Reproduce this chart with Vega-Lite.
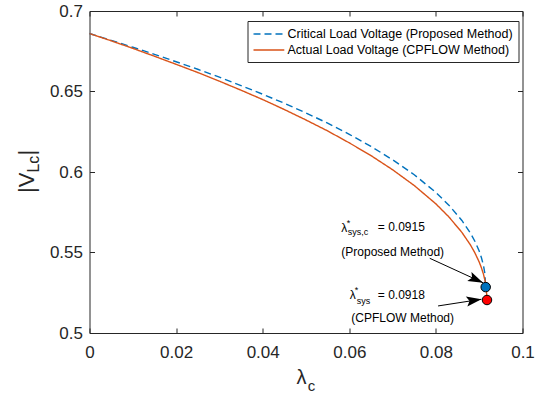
{
  "$schema": "https://vega.github.io/schema/vega-lite/v6.json",
  "width": 433,
  "height": 322,
  "autosize": {"type": "none"},
  "padding": {"left": 89.5, "top": 11, "right": 18.5, "bottom": 66},
  "background": "white",
  "config": {
    "font": "Liberation Sans",
    "view": {"stroke": "#262626", "strokeWidth": 1},
    "axis": {
      "domain": false,
      "grid": false,
      "tickColor": "#262626",
      "tickSize": -5,
      "tickWidth": 1,
      "labelColor": "#262626",
      "labelFont": "Liberation Sans",
      "labelFontSize": 17,
      "labelFlush": false,
      "labelOverlap": false,
      "title": null
    }
  },
  "datasets": {
    "curves": [
      {"series": "Critical Load Voltage (Proposed Method)", "lambda": 0, "V": 0.686},
      {"series": "Critical Load Voltage (Proposed Method)", "lambda": 0.005, "V": 0.6818},
      {"series": "Critical Load Voltage (Proposed Method)", "lambda": 0.01, "V": 0.6775},
      {"series": "Critical Load Voltage (Proposed Method)", "lambda": 0.015, "V": 0.6731},
      {"series": "Critical Load Voltage (Proposed Method)", "lambda": 0.02, "V": 0.6685},
      {"series": "Critical Load Voltage (Proposed Method)", "lambda": 0.025, "V": 0.6638},
      {"series": "Critical Load Voltage (Proposed Method)", "lambda": 0.03, "V": 0.6589},
      {"series": "Critical Load Voltage (Proposed Method)", "lambda": 0.035, "V": 0.6537},
      {"series": "Critical Load Voltage (Proposed Method)", "lambda": 0.04, "V": 0.6483},
      {"series": "Critical Load Voltage (Proposed Method)", "lambda": 0.045, "V": 0.6427},
      {"series": "Critical Load Voltage (Proposed Method)", "lambda": 0.05, "V": 0.6367},
      {"series": "Critical Load Voltage (Proposed Method)", "lambda": 0.055, "V": 0.6303},
      {"series": "Critical Load Voltage (Proposed Method)", "lambda": 0.06, "V": 0.6234},
      {"series": "Critical Load Voltage (Proposed Method)", "lambda": 0.065, "V": 0.6159},
      {"series": "Critical Load Voltage (Proposed Method)", "lambda": 0.07, "V": 0.6076},
      {"series": "Critical Load Voltage (Proposed Method)", "lambda": 0.075, "V": 0.5983},
      {"series": "Critical Load Voltage (Proposed Method)", "lambda": 0.08, "V": 0.5873},
      {"series": "Critical Load Voltage (Proposed Method)", "lambda": 0.083, "V": 0.5794},
      {"series": "Critical Load Voltage (Proposed Method)", "lambda": 0.086, "V": 0.5699},
      {"series": "Critical Load Voltage (Proposed Method)", "lambda": 0.088, "V": 0.5619},
      {"series": "Critical Load Voltage (Proposed Method)", "lambda": 0.089, "V": 0.557},
      {"series": "Critical Load Voltage (Proposed Method)", "lambda": 0.09, "V": 0.5509},
      {"series": "Critical Load Voltage (Proposed Method)", "lambda": 0.0905, "V": 0.5469},
      {"series": "Critical Load Voltage (Proposed Method)", "lambda": 0.091, "V": 0.5418},
      {"series": "Critical Load Voltage (Proposed Method)", "lambda": 0.0913, "V": 0.5371},
      {"series": "Critical Load Voltage (Proposed Method)", "lambda": 0.0915, "V": 0.5285},
      {"series": "Actual Load Voltage (CPFLOW Method)", "lambda": 0, "V": 0.686},
      {"series": "Actual Load Voltage (CPFLOW Method)", "lambda": 0.005, "V": 0.6815},
      {"series": "Actual Load Voltage (CPFLOW Method)", "lambda": 0.01, "V": 0.6768},
      {"series": "Actual Load Voltage (CPFLOW Method)", "lambda": 0.015, "V": 0.6719},
      {"series": "Actual Load Voltage (CPFLOW Method)", "lambda": 0.02, "V": 0.6669},
      {"series": "Actual Load Voltage (CPFLOW Method)", "lambda": 0.025, "V": 0.6618},
      {"series": "Actual Load Voltage (CPFLOW Method)", "lambda": 0.03, "V": 0.6564},
      {"series": "Actual Load Voltage (CPFLOW Method)", "lambda": 0.035, "V": 0.6508},
      {"series": "Actual Load Voltage (CPFLOW Method)", "lambda": 0.04, "V": 0.645},
      {"series": "Actual Load Voltage (CPFLOW Method)", "lambda": 0.045, "V": 0.6388},
      {"series": "Actual Load Voltage (CPFLOW Method)", "lambda": 0.05, "V": 0.6323},
      {"series": "Actual Load Voltage (CPFLOW Method)", "lambda": 0.055, "V": 0.6255},
      {"series": "Actual Load Voltage (CPFLOW Method)", "lambda": 0.06, "V": 0.6181},
      {"series": "Actual Load Voltage (CPFLOW Method)", "lambda": 0.065, "V": 0.6102},
      {"series": "Actual Load Voltage (CPFLOW Method)", "lambda": 0.07, "V": 0.6014},
      {"series": "Actual Load Voltage (CPFLOW Method)", "lambda": 0.075, "V": 0.5916},
      {"series": "Actual Load Voltage (CPFLOW Method)", "lambda": 0.08, "V": 0.5802},
      {"series": "Actual Load Voltage (CPFLOW Method)", "lambda": 0.083, "V": 0.5721},
      {"series": "Actual Load Voltage (CPFLOW Method)", "lambda": 0.086, "V": 0.5625},
      {"series": "Actual Load Voltage (CPFLOW Method)", "lambda": 0.088, "V": 0.5546},
      {"series": "Actual Load Voltage (CPFLOW Method)", "lambda": 0.089, "V": 0.5498},
      {"series": "Actual Load Voltage (CPFLOW Method)", "lambda": 0.09, "V": 0.5441},
      {"series": "Actual Load Voltage (CPFLOW Method)", "lambda": 0.0905, "V": 0.5406},
      {"series": "Actual Load Voltage (CPFLOW Method)", "lambda": 0.091, "V": 0.5364},
      {"series": "Actual Load Voltage (CPFLOW Method)", "lambda": 0.0914, "V": 0.5319},
      {"series": "Actual Load Voltage (CPFLOW Method)", "lambda": 0.0916, "V": 0.5287},
      {"series": "Actual Load Voltage (CPFLOW Method)", "lambda": 0.0918, "V": 0.521}
    ],
    "dots": [
      {"method": "Proposed", "lambda": 0.0915, "V": 0.5285},
      {"method": "CPFLOW", "lambda": 0.0918, "V": 0.5205}
    ],
    "arrows": [
      {"lambda": 0.07858, "V": 0.5464, "lambda2": 0.09088, "V2": 0.53124},
      {"lambda": 0.0805, "V": 0.5168, "lambda2": 0.09051, "V2": 0.52096}
    ],
    "annBig": [
      {"t": "λ", "lambda": 0.05816, "V": 0.56273},
      {"t": "= 0.0915", "lambda": 0.06658, "V": 0.56335},
      {"t": "(Proposed Method)", "lambda": 0.05816, "V": 0.54783},
      {"t": "λ", "lambda": 0.06012, "V": 0.52112},
      {"t": "= 0.0918", "lambda": 0.06658, "V": 0.52112},
      {"t": "(CPFLOW Method)", "lambda": 0.06047, "V": 0.50683}
    ],
    "annSmall": [
      {"t": "*", "lambda": 0.05943, "V": 0.56646},
      {"t": "sys,c", "lambda": 0.05966, "V": 0.56087},
      {"t": "*", "lambda": 0.06127, "V": 0.52484},
      {"t": "sys", "lambda": 0.06174, "V": 0.51832}
    ],
    "xTitle": [{"t": "λ", "lambda": 0.04782, "V": 0.46832}],
    "xTitleSub": [{"t": "c", "lambda": 0.05042, "V": 0.46398}],
    "yTitle": [
      {"t": "|V", "lambda": -0.012809, "V": 0.58696},
      {"t": "|", "lambda": -0.012809, "V": 0.61025}
    ],
    "yTitleSub": [{"t": "Lc", "lambda": -0.011655, "V": 0.59963}]
  },
  "layer": [
    {
      "data": {"name": "curves"},
      "mark": {"type": "line", "strokeWidth": 1.4},
      "encoding": {
        "x": {"field": "lambda", "type": "quantitative", "scale": {"domain": [0, 0.1], "nice": false, "zero": false},
          "axis": {"orient": "bottom", "values": [0, 0.02, 0.04, 0.06, 0.08, 0.1], "format": "~g", "labelPadding": 16}},
        "y": {"field": "V", "type": "quantitative", "scale": {"domain": [0.5, 0.7], "nice": false, "zero": false},
          "axis": {"orient": "left", "values": [0.5, 0.55, 0.6, 0.65, 0.7], "format": "~g", "labelPadding": 12}},
        "color": {"field": "series", "type": "nominal",
          "scale": {"domain": ["Critical Load Voltage (Proposed Method)", "Actual Load Voltage (CPFLOW Method)"], "range": ["#0072BD", "#D95319"]},
          "legend": {"orient": "none", "legendX": 158, "legendY": 10, "title": null, "fillColor": "white", "strokeColor": "#262626",
            "padding": 5, "rowPadding": 1, "symbolType": "M-1,0 L3.4,0", "symbolSize": 196, "symbolStrokeWidth": 1.4,
            "labelFontSize": 12.5, "labelColor": "black", "labelFont": "Liberation Sans", "labelOffset": 19, "labelLimit": 0}},
        "strokeDash": {"field": "series", "type": "nominal",
          "scale": {"domain": ["Critical Load Voltage (Proposed Method)", "Actual Load Voltage (CPFLOW Method)"], "range": [[7, 4], [1, 0]]}}
      }
    },
    {
      "data": {"name": "curves"},
      "mark": {"type": "point", "opacity": 0},
      "encoding": {
        "x": {"field": "lambda", "type": "quantitative", "scale": {"domain": [0, 0.1], "nice": false, "zero": false},
          "axis": {"orient": "top", "values": [0, 0.02, 0.04, 0.06, 0.08, 0.1], "labels": false}},
        "y": {"field": "V", "type": "quantitative", "scale": {"domain": [0.5, 0.7], "nice": false, "zero": false},
          "axis": {"orient": "right", "values": [0.5, 0.55, 0.6, 0.65, 0.7], "labels": false}}
      }
    },
    {
      "data": {"name": "arrows"},
      "mark": {"type": "rule", "color": "black", "strokeWidth": 1},
      "encoding": {
        "x": {"field": "lambda", "type": "quantitative", "axis": null},
        "y": {"field": "V", "type": "quantitative", "axis": null},
        "x2": {"field": "lambda2"},
        "y2": {"field": "V2"}
      }
    },
    {
      "data": {"values": [{"lambda": 0.09088, "V": 0.53124}]},
      "mark": {"type": "point", "shape": "M0,0 L-2,-0.67 L-1.6,0 L-2,0.67 Z", "size": 225, "angle": 24.6, "filled": true, "color": "black", "opacity": 1},
      "encoding": {
        "x": {"field": "lambda", "type": "quantitative", "axis": null},
        "y": {"field": "V", "type": "quantitative", "axis": null}
      }
    },
    {
      "data": {"values": [{"lambda": 0.09051, "V": 0.52096}]},
      "mark": {"type": "point", "shape": "M0,0 L-2,-0.67 L-1.6,0 L-2,0.67 Z", "size": 225, "angle": -8.8, "filled": true, "color": "black", "opacity": 1},
      "encoding": {
        "x": {"field": "lambda", "type": "quantitative", "axis": null},
        "y": {"field": "V", "type": "quantitative", "axis": null}
      }
    },
    {
      "data": {"name": "dots"},
      "mark": {"type": "point", "shape": "circle", "filled": true, "size": 90, "stroke": "black", "strokeWidth": 1, "opacity": 1},
      "encoding": {
        "x": {"field": "lambda", "type": "quantitative", "axis": null},
        "y": {"field": "V", "type": "quantitative", "axis": null},
        "fill": {"field": "method", "type": "nominal", "scale": {"domain": ["Proposed", "CPFLOW"], "range": ["#0072BD", "#FF0000"]}, "legend": null}
      }
    },
    {
      "data": {"name": "annBig"},
      "mark": {"type": "text", "align": "left", "baseline": "alphabetic", "fontSize": 12, "color": "black", "font": "Liberation Sans"},
      "encoding": {
        "x": {"field": "lambda", "type": "quantitative", "axis": null},
        "y": {"field": "V", "type": "quantitative", "axis": null},
        "text": {"field": "t"}
      }
    },
    {
      "data": {"name": "annSmall"},
      "mark": {"type": "text", "align": "left", "baseline": "alphabetic", "fontSize": 9, "color": "black", "font": "Liberation Sans"},
      "encoding": {
        "x": {"field": "lambda", "type": "quantitative", "axis": null},
        "y": {"field": "V", "type": "quantitative", "axis": null},
        "text": {"field": "t"}
      }
    },
    {
      "data": {"name": "xTitle"},
      "mark": {"type": "text", "align": "left", "baseline": "alphabetic", "fontSize": 20, "color": "#262626", "font": "Liberation Sans"},
      "encoding": {
        "x": {"field": "lambda", "type": "quantitative", "axis": null},
        "y": {"field": "V", "type": "quantitative", "axis": null},
        "text": {"field": "t"}
      }
    },
    {
      "data": {"name": "xTitleSub"},
      "mark": {"type": "text", "align": "left", "baseline": "alphabetic", "fontSize": 15, "color": "#262626", "font": "Liberation Sans"},
      "encoding": {
        "x": {"field": "lambda", "type": "quantitative", "axis": null},
        "y": {"field": "V", "type": "quantitative", "axis": null},
        "text": {"field": "t"}
      }
    },
    {
      "data": {"name": "yTitle"},
      "mark": {"type": "text", "align": "left", "baseline": "alphabetic", "angle": 270, "fontSize": 22, "color": "#262626", "font": "Liberation Sans"},
      "encoding": {
        "x": {"field": "lambda", "type": "quantitative", "axis": null},
        "y": {"field": "V", "type": "quantitative", "axis": null},
        "text": {"field": "t"}
      }
    },
    {
      "data": {"name": "yTitleSub"},
      "mark": {"type": "text", "align": "left", "baseline": "alphabetic", "angle": 270, "fontSize": 16, "color": "#262626", "font": "Liberation Sans"},
      "encoding": {
        "x": {"field": "lambda", "type": "quantitative", "axis": null},
        "y": {"field": "V", "type": "quantitative", "axis": null},
        "text": {"field": "t"}
      }
    }
  ],
  "resolve": {"axis": {"x": "independent", "y": "independent"}}
}
